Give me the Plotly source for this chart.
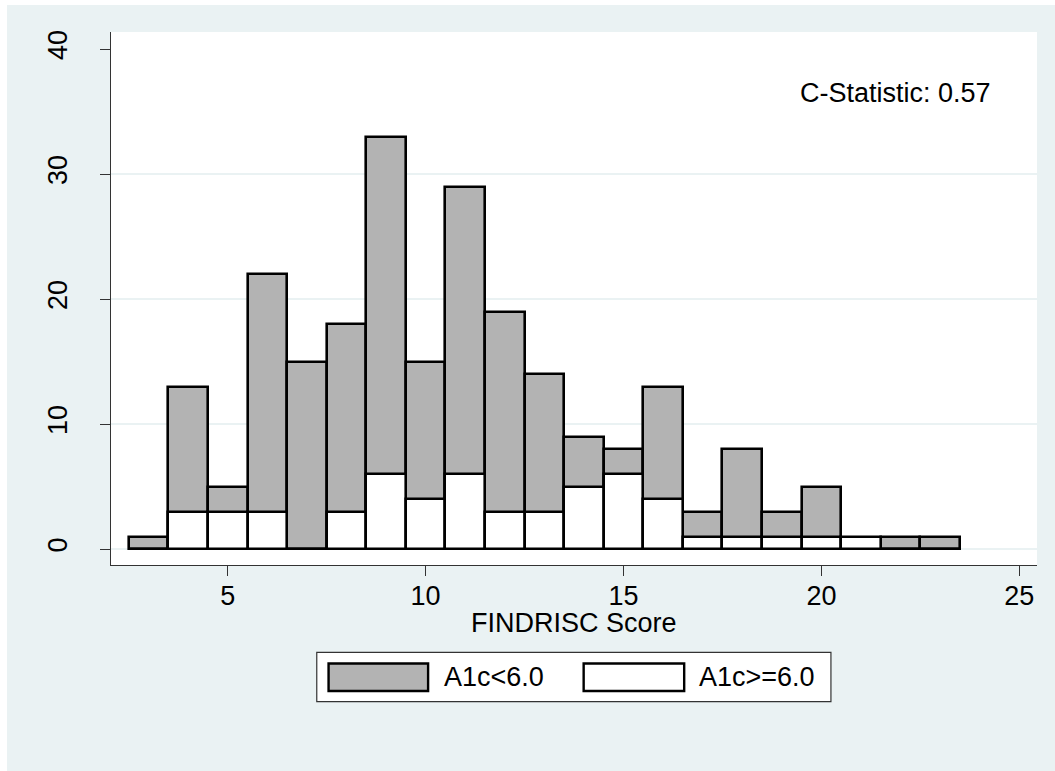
import plotly.graph_objects as go

# ---- data ----
scores = [3, 4, 5, 6, 7, 8, 9, 10, 11, 12, 13, 14, 15, 16, 17, 18, 19, 20, 21, 22, 23]
a1c_low = [1, 13, 5, 22, 15, 18, 33, 15, 29, 19, 14, 9, 8, 13, 3, 8, 3, 5, 0, 1, 1]
a1c_high = [0, 3, 3, 3, 0, 3, 6, 4, 6, 3, 3, 5, 6, 4, 1, 1, 1, 1, 1, 0, 0]
y_ticks = [0, 10, 20, 30, 40]
x_ticks = [5, 10, 15, 20, 25]
grid_vals = [0, 10, 20, 30]
series_names = ["A1c<6.0", "A1c>=6.0"]
x_title = "FINDRISC Score"
c_stat_text = "C-Statistic: 0.57"

W, H = 1055, 771
L, R, T, B = 111, 1036.7, 32, 565
BG = "#EAF2F3"
GREY = "#B3B3B3"
FONT = "Liberation Sans, Arial, sans-serif"
FS = 27


def px(X):
    return (X - L) / (R - L)


def py(Y):
    return (B - Y) / (B - T)


fig = go.Figure()
fig.add_trace(go.Bar(x=scores, y=a1c_low, width=1, name=series_names[0],
                     marker=dict(color=GREY, line=dict(color="black", width=2.6)),
                     showlegend=False))
fig.add_trace(go.Bar(x=scores, y=a1c_high, width=1, name=series_names[1],
                     marker=dict(color="white", line=dict(color="black", width=2.6)),
                     showlegend=False))

shapes = []
# gridlines
for g in grid_vals:
    shapes.append(dict(type="line", xref="paper", yref="y", x0=0, x1=1, y0=g, y1=g,
                       line=dict(color=BG, width=2), layer="below"))
# white border strips (left and top)
shapes.append(dict(type="rect", xref="paper", yref="paper", x0=px(0), x1=px(7),
                   y0=py(H), y1=py(0), fillcolor="white", line=dict(width=0), layer="below"))
shapes.append(dict(type="rect", xref="paper", yref="paper", x0=px(0), x1=px(W),
                   y0=py(5), y1=py(0), fillcolor="white", line=dict(width=0), layer="below"))
# legend box
shapes.append(dict(type="rect", xref="paper", yref="paper", x0=px(316.7), x1=px(830.7),
                   y0=py(701.7), y1=py(652.3), fillcolor="white",
                   line=dict(color="#333333", width=1.2)))
# legend swatches
shapes.append(dict(type="rect", xref="paper", yref="paper", x0=px(328.5), x1=px(428),
                   y0=py(691), y1=py(663.5), fillcolor=GREY,
                   line=dict(color="black", width=2.4)))
shapes.append(dict(type="rect", xref="paper", yref="paper", x0=px(583.5), x1=px(684),
                   y0=py(691), y1=py(663.5), fillcolor="white",
                   line=dict(color="black", width=2.4)))

annotations = [
    dict(text=c_stat_text, xref="paper", yref="paper", x=px(993), y=py(93),
         xanchor="right", yanchor="middle", showarrow=False,
         font=dict(family=FONT, size=FS, color="black")),
    dict(text=x_title, xref="paper", yref="paper", x=0.5, y=py(622.5),
         xanchor="center", yanchor="middle", showarrow=False,
         font=dict(family=FONT, size=FS, color="black")),
    dict(text=series_names[0], xref="paper", yref="paper", x=px(442), y=py(677),
         xanchor="left", yanchor="middle", showarrow=False,
         font=dict(family=FONT, size=FS, color="black")),
    dict(text=series_names[1], xref="paper", yref="paper", x=px(697), y=py(677),
         xanchor="left", yanchor="middle", showarrow=False,
         font=dict(family=FONT, size=FS, color="black")),
]

fig.update_layout(
    width=W, height=H,
    margin=dict(l=L, r=W - R, t=T, b=H - B, pad=0),
    paper_bgcolor=BG, plot_bgcolor="white",
    barmode="overlay", bargap=0,
    font=dict(family=FONT, size=FS, color="black"),
    shapes=shapes, annotations=annotations,
    showlegend=False,
    xaxis=dict(range=[2.051, 25.447], tickvals=x_ticks, ticks="outside", ticklen=10,
               tickwidth=1.3, tickcolor="#333333", showline=True, linecolor="#333333",
               linewidth=1.3, showgrid=False, zeroline=False, ticklabelstandoff=-4,
               tickfont=dict(family=FONT, size=FS)),
    yaxis=dict(range=[-1.28, 41.36], tickvals=y_ticks, ticks="outside", ticklen=10,
               tickwidth=1.3, tickcolor="#333333", showline=True, linecolor="#333333",
               linewidth=1.3, showgrid=False, zeroline=False, tickangle=-90,
               ticklabelstandoff=22,
               tickfont=dict(family=FONT, size=FS)),
)

fig.write_html(
    "out.html",
    config={"displayModeBar": False},
    post_script="document.body.style.margin='0';document.body.style.overflow='hidden';",
)
